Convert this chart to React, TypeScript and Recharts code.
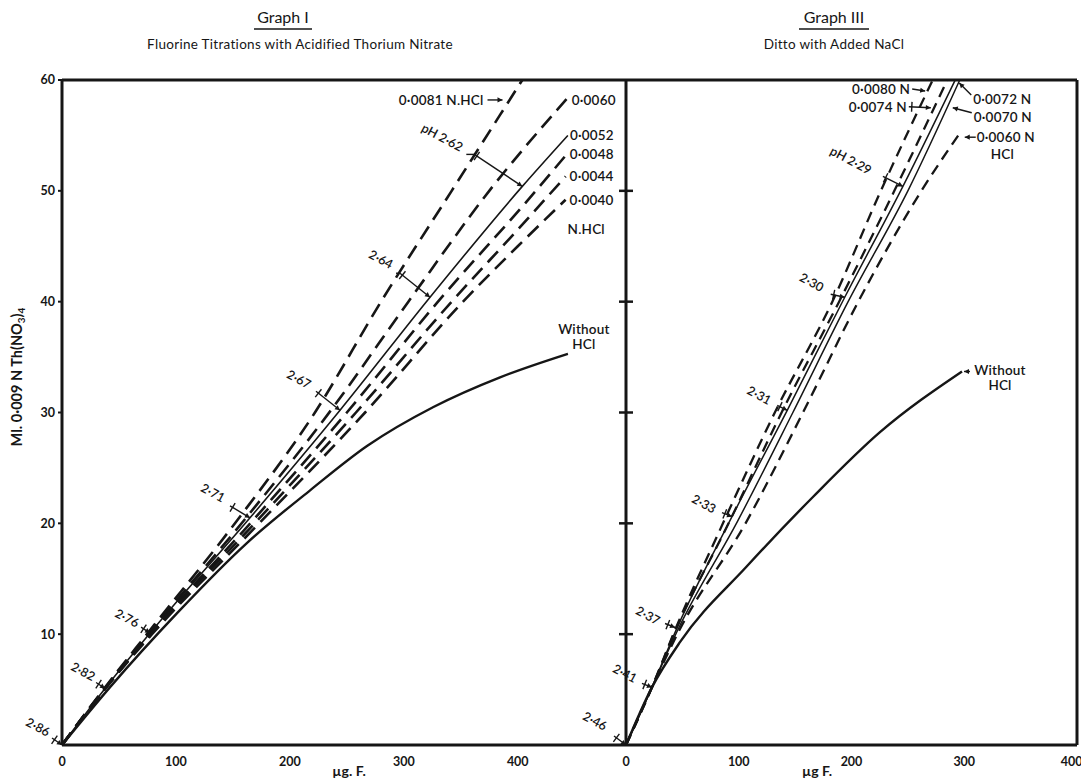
import React from 'react';
import { LineChart, Line, XAxis, YAxis, ReferenceDot, ReferenceLine } from 'recharts';

type Pt = { x: number; y: number };

// ---- Graph I: fluorine titrations with acidified thorium nitrate (ug F. vs ml) ----
const g1Hcl0081: Pt[] = [
  { x: 0, y: 0 }, { x: 37, y: 5.1 }, { x: 76, y: 10.2 }, { x: 154, y: 20.3 },
  { x: 222, y: 30 }, { x: 280, y: 40 }, { x: 342, y: 50 }, { x: 404, y: 60 },
];
const g1Hcl0060: Pt[] = [
  { x: 0, y: 0 }, { x: 37.5, y: 5.1 }, { x: 76.5, y: 10.1 }, { x: 160, y: 20.3 },
  { x: 236, y: 30.2 }, { x: 304, y: 40 }, { x: 375, y: 50 }, { x: 443, y: 58.3 },
];
const g1Hcl0052: Pt[] = [
  { x: 0, y: 0 }, { x: 37.8, y: 5.1 }, { x: 77.3, y: 10.1 }, { x: 165, y: 20.5 },
  { x: 244, y: 30.2 }, { x: 323, y: 40.4 }, { x: 404, y: 50.4 }, { x: 444, y: 55 },
];
const g1Hcl0048: Pt[] = [
  { x: 0, y: 0 }, { x: 38, y: 5.1 }, { x: 78, y: 10.1 }, { x: 167, y: 20.2 },
  { x: 250, y: 30 }, { x: 330, y: 40 }, { x: 410, y: 49.3 }, { x: 443, y: 53.3 },
];
const g1Hcl0044: Pt[] = [
  { x: 0, y: 0 }, { x: 38, y: 5.1 }, { x: 78.5, y: 10.1 }, { x: 170, y: 20.1 },
  { x: 258, y: 30 }, { x: 342, y: 40 }, { x: 400, y: 46.5 }, { x: 442, y: 51.3 },
];
const g1Hcl0040: Pt[] = [
  { x: 0, y: 0 }, { x: 38, y: 5.1 }, { x: 79, y: 10 }, { x: 173, y: 20 },
  { x: 266, y: 30 }, { x: 352, y: 40 }, { x: 400, y: 45 }, { x: 442, y: 49.2 },
];
const g1NoHcl: Pt[] = [
  { x: 0, y: 0 }, { x: 42, y: 5.2 }, { x: 101, y: 11.9 }, { x: 162, y: 18.2 },
  { x: 218, y: 23 }, { x: 268, y: 27 }, { x: 326, y: 30.5 }, { x: 385, y: 33.2 },
  { x: 444, y: 35.3 },
];
const g1PhLabels = ['2·86', '2·82', '2·76', '2·71', '2·67', '2·64', 'pH 2·62'];
const g1PhPoints: Pt[] = [
  { x: 0, y: 0 }, { x: 37.8, y: 5.1 }, { x: 77.3, y: 10.1 }, { x: 165, y: 20.5 },
  { x: 244, y: 30.2 }, { x: 323, y: 40.4 }, { x: 404, y: 50.4 },
];

// ---- Graph III: ditto with added NaCl ----
const g3Hcl0080: Pt[] = [
  { x: 0, y: 0 }, { x: 23, y: 5.2 }, { x: 44, y: 10.5 }, { x: 86, y: 20 },
  { x: 132, y: 30 }, { x: 183, y: 40 }, { x: 226, y: 50 }, { x: 272, y: 60 },
];
const g3Hcl0074: Pt[] = [
  { x: 0, y: 0 }, { x: 23, y: 5.2 }, { x: 44.5, y: 10.5 }, { x: 91, y: 20 },
  { x: 138, y: 30 }, { x: 189, y: 40 }, { x: 238, y: 50 }, { x: 285, y: 60 },
];
const g3Hcl0072: Pt[] = [
  { x: 0, y: 0 }, { x: 23, y: 5.2 }, { x: 45, y: 10.5 }, { x: 94, y: 20.6 },
  { x: 143, y: 30.2 }, { x: 194, y: 40.4 }, { x: 245.6, y: 50.4 }, { x: 292, y: 60 },
];
const g3Hcl0070: Pt[] = [
  { x: 0, y: 0 }, { x: 23, y: 5.2 }, { x: 46, y: 10.4 }, { x: 99, y: 20.2 },
  { x: 148, y: 30 }, { x: 197, y: 40 }, { x: 250, y: 50 }, { x: 296, y: 60 },
];
const g3Hcl0060: Pt[] = [
  { x: 0, y: 0 }, { x: 23, y: 5.2 }, { x: 47, y: 10.3 }, { x: 106, y: 20 },
  { x: 157, y: 30 }, { x: 206, y: 40 }, { x: 262, y: 50 }, { x: 296, y: 55.2 },
];
const g3NoHcl: Pt[] = [
  { x: 0, y: 0 }, { x: 23, y: 5.2 }, { x: 48, y: 9.3 }, { x: 107, y: 16.1 },
  { x: 166, y: 22.4 }, { x: 225, y: 28.2 }, { x: 298, y: 33.7 },
];
const g3PhLabels = ['2·46', '2·41', '2·37', '2·33', '2·31', '2·30', 'pH 2·29'];
const g3PhPoints: Pt[] = [
  { x: 0, y: 0 }, { x: 23, y: 5.2 }, { x: 43.5, y: 10.6 }, { x: 94, y: 20.6 },
  { x: 143, y: 30.2 }, { x: 194, y: 40.4 }, { x: 245.6, y: 50.4 },
];

const xTicks = [0, 100, 200, 300, 400];
const yTicksI = [10, 20, 30, 40, 50, 60];
const yTicksIII = [10, 20, 30, 40, 50];

// ---- layout ----
const W = 1081;
const H = 782;
const TOP = 80;
const BASE = 745;
const L0 = 62;
const L1 = 626;
const R1 = 1077;
const INK = '#161616';
const FONT = 'Lato, "Open Sans", sans-serif';

// label centre / arrow tail / optional elbow, in px from the marked point
const g1PhLayout = [
  { lx: -24, ly: -18, ax: -10, ay: -7 },
  { lx: -22, ly: -17, ax: -9, ay: -6 },
  { lx: -23, ly: -15, ax: -9, ay: -6 },
  { lx: -37, ly: -25, ax: -20, ay: -12 },
  { lx: -41, ly: -31, ax: -24, ay: -19 },
  { lx: -49, ly: -38, ax: -30, ay: -24, ex: -34, ey: -24 },
  { lx: -80, ly: -49, ax: -48, ay: -32, ex: -56, ey: -32 },
];
const g3PhLayout = [
  { lx: -31, ly: -24, ax: -12, ay: -9 },
  { lx: -27, ly: -14, ax: -10, ay: -4 },
  { lx: -27, ly: -12, ax: -10, ay: -4 },
  { lx: -28, ly: -13, ax: -10, ay: -4 },
  { lx: -28, ly: -15, ax: -10, ay: -5 },
  { lx: -33, ly: -15, ax: -14, ay: -3 },
  { lx: -52, ly: -26, ax: -20, ay: -10 },
];

type Note = {
  at: Pt; lines: string[]; dx: number; dy: number; anchor: 'start' | 'end' | 'middle';
  ptr?: number[]; tick?: boolean;
};

const g1Notes: Note[] = [
  { at: { x: 391, y: 58.2 }, lines: ['0·0081 N.HCl'], dx: -24, dy: 5, anchor: 'end', ptr: [-20, 0, -5, 0] },
  { at: { x: 443, y: 58.3 }, lines: ['0·0060'], dx: 5, dy: 6, anchor: 'start' },
  { at: { x: 444, y: 55 }, lines: ['0·0052'], dx: 2, dy: 5, anchor: 'start' },
  { at: { x: 443, y: 53.3 }, lines: ['0·0048'], dx: 3, dy: 5, anchor: 'start' },
  { at: { x: 442, y: 51.3 }, lines: ['0·0044'], dx: 4, dy: 5, anchor: 'start' },
  { at: { x: 442, y: 49.2 }, lines: ['0·0040'], dx: 4, dy: 5, anchor: 'start' },
  { at: { x: 442, y: 49.2 }, lines: ['N.HCl'], dx: 2, dy: 34, anchor: 'start' },
  { at: { x: 444, y: 35.3 }, lines: ['Without', 'HCl'], dx: 16, dy: -20, anchor: 'middle' },
];
const g3Notes: Note[] = [
  { at: { x: 268, y: 59.1 }, lines: ['0·0080 N'], dx: -18, dy: 4, anchor: 'end', ptr: [-16, -1, -3, 1] },
  { at: { x: 273, y: 57.5 }, lines: ['0·0074 N'], dx: -27, dy: 4, anchor: 'end', ptr: [-25, -1, -3, 0], tick: true },
  { at: { x: 292, y: 60 }, lines: ['0·0072 N'], dx: 18, dy: 24, anchor: 'start', ptr: [16, 15, 4, 3] },
  { at: { x: 284.5, y: 57.5 }, lines: ['0·0070 N'], dx: 27, dy: 14, anchor: 'start', ptr: [25, 5, 6, 0] },
  { at: { x: 296, y: 55.2 }, lines: ['0·0060 N'], dx: 17, dy: 9, anchor: 'start', ptr: [16, 4, 5, 4] },
  { at: { x: 296, y: 55.2 }, lines: ['HCl'], dx: 31, dy: 26, anchor: 'start' },
  { at: { x: 298, y: 33.7 }, lines: ['Without', 'HCl'], dx: 38, dy: 4, anchor: 'middle', ptr: [8, 0, 2, 0] },
];

const Arrow = ({ x1, y1, x2, y2, tick }: { x1: number; y1: number; x2: number; y2: number; tick?: boolean }) => {
  const dx = x2 - x1;
  const dy = y2 - y1;
  const len = Math.hypot(dx, dy) || 1;
  const ux = dx / len;
  const uy = dy / len;
  const bx = x2 - ux * 5;
  const by = y2 - uy * 5;
  const tx = x1 + ux * 3;
  const ty = y1 + uy * 3;
  return (
    <g>
      <line x1={x1} y1={y1} x2={x2} y2={y2} stroke={INK} strokeWidth={1.4} />
      <path d={`M${x2},${y2} L${bx - uy * 2.6},${by + ux * 2.6} L${bx + uy * 2.6},${by - ux * 2.6} Z`} fill={INK} />
      {tick && <line x1={tx - uy * 5} y1={ty + ux * 5} x2={tx + uy * 5} y2={ty - ux * 5} stroke={INK} strokeWidth={1.4} />}
    </g>
  );
};

const PhMark = (props: any) => {
  const { cx, cy, text, lay } = props;
  const x0 = cx + lay.ax;
  const y0 = cy + lay.ay;
  const lx = cx + lay.lx;
  const ly = cy + lay.ly;
  return (
    <g>
      {lay.ex !== undefined && (
        <line x1={cx + lay.ex} y1={cy + lay.ey} x2={x0} y2={y0} stroke={INK} strokeWidth={1.4} />
      )}
      <Arrow x1={x0} y1={y0} x2={cx} y2={cy} tick />
      <text x={lx} y={ly} transform={`rotate(28 ${lx} ${ly})`} textAnchor="middle" dominantBaseline="central"
        fontFamily={FONT} fontSize={12.5} fontWeight={600} fill={INK}>{text}</text>
    </g>
  );
};

const NoteMark = (props: any) => {
  const { cx, cy, note } = props;
  const n: Note = note;
  return (
    <g>
      {n.ptr && <Arrow x1={cx + n.ptr[0]} y1={cy + n.ptr[1]} x2={cx + n.ptr[2]} y2={cy + n.ptr[3]} tick={n.tick} />}
      {n.lines.map((t, i) => (
        <text key={t + i} x={cx + n.dx} y={cy + n.dy + i * 15} textAnchor={n.anchor}
          fontFamily={FONT} fontSize={13.5} fontWeight={600} letterSpacing={0.2} fill={INK}>{t}</text>
      ))}
    </g>
  );
};

const seriesI = [
  { id: '0081', data: g1Hcl0081, dash: true, w: 2.6 },
  { id: '0060', data: g1Hcl0060, dash: true, w: 2.6 },
  { id: '0052', data: g1Hcl0052, dash: false, w: 1.6 },
  { id: '0048', data: g1Hcl0048, dash: true, w: 2.6 },
  { id: '0044', data: g1Hcl0044, dash: true, w: 2.6 },
  { id: '0040', data: g1Hcl0040, dash: true, w: 2.6 },
  { id: 'none', data: g1NoHcl, dash: false, w: 2.4 },
];
const seriesIII = [
  { id: '0080', data: g3Hcl0080, dash: true, w: 2.3 },
  { id: '0074', data: g3Hcl0074, dash: true, w: 2.3 },
  { id: '0072', data: g3Hcl0072, dash: false, w: 1.5 },
  { id: '0070', data: g3Hcl0070, dash: false, w: 1.5 },
  { id: '0060', data: g3Hcl0060, dash: true, w: 2.3 },
  { id: 'none', data: g3NoHcl, dash: false, w: 2.4 },
];

const tickStyle = { fill: INK, fontSize: 12.5, fontWeight: 700, fontFamily: FONT };
const axisLine = { stroke: INK, strokeWidth: 3 };

const layer: React.CSSProperties = { position: 'absolute', left: 0, top: 0 };

export default function App() {
  return (
    <div style={{ position: 'absolute', left: 0, top: 0, width: W, height: H, background: '#fff', fontFamily: FONT, color: INK }}>
      <div style={layer}>
        <LineChart width={W} height={H} margin={{ top: TOP, bottom: H - BASE - 1, left: L0 - 1, right: W - L1 }}>
          <XAxis type="number" dataKey="x" domain={[0, 495]} ticks={xTicks} height={1}
            axisLine={axisLine} tickLine={false} tickMargin={6} tick={tickStyle} allowDataOverflow />
          <YAxis type="number" dataKey="y" domain={[0, 60]} ticks={yTicksI} width={1}
            axisLine={axisLine} tickLine={{ stroke: INK, strokeWidth: 2 }} tickSize={4} tickMargin={3} tick={tickStyle} />
          <ReferenceLine y={60} stroke={INK} strokeWidth={3} />
          {seriesI.map((s) => (
            <Line key={s.id} data={s.data} dataKey="y" type="monotone" stroke={INK} strokeWidth={s.w}
              strokeDasharray={s.dash ? '15 8' : undefined} dot={false} activeDot={false} isAnimationActive={false} />
          ))}
          {g1PhPoints.map((p, i) => (
            <ReferenceDot key={'ph' + i} x={p.x} y={p.y} r={0} ifOverflow="visible"
              shape={(sp: any) => <PhMark cx={sp.cx} cy={sp.cy} text={g1PhLabels[i]} lay={g1PhLayout[i]} />} />
          ))}
          {g1Notes.map((n, i) => (
            <ReferenceDot key={'n' + i} x={n.at.x} y={n.at.y} r={0} ifOverflow="visible"
              shape={(sp: any) => <NoteMark cx={sp.cx} cy={sp.cy} note={n} />} />
          ))}
        </LineChart>
      </div>
      <div style={layer}>
        <LineChart width={W} height={H} margin={{ top: TOP, bottom: H - BASE - 1, left: L1 - 1, right: W - R1 }}>
          <XAxis type="number" dataKey="x" domain={[0, 400]} ticks={xTicks} height={1}
            axisLine={axisLine} tickLine={false} tickMargin={6} tick={tickStyle} />
          <YAxis type="number" dataKey="y" domain={[0, 60]} ticks={yTicksIII} width={1}
            axisLine={axisLine} tickLine={false}
            tick={(tp: any) => <line x1={L1 - 7} x2={L1 + 7} y1={tp.y} y2={tp.y} stroke={INK} strokeWidth={2.5} />} />
          <ReferenceLine y={60} stroke={INK} strokeWidth={3} />
          <ReferenceLine x={400} stroke={INK} strokeWidth={3} />
          {seriesIII.map((s) => (
            <Line key={s.id} data={s.data} dataKey="y" type="monotone" stroke={INK} strokeWidth={s.w}
              strokeDasharray={s.dash ? '11 7' : undefined} dot={false} activeDot={false} isAnimationActive={false} />
          ))}
          {g3PhPoints.map((p, i) => (
            <ReferenceDot key={'ph' + i} x={p.x} y={p.y} r={0} ifOverflow="visible"
              shape={(sp: any) => <PhMark cx={sp.cx} cy={sp.cy} text={g3PhLabels[i]} lay={g3PhLayout[i]} />} />
          ))}
          {g3Notes.map((n, i) => (
            <ReferenceDot key={'n' + i} x={n.at.x} y={n.at.y} r={0} ifOverflow="visible"
              shape={(sp: any) => <NoteMark cx={sp.cx} cy={sp.cy} note={n} />} />
          ))}
        </LineChart>
      </div>
      <svg width={W} height={H} style={{ ...layer, pointerEvents: 'none' }}>
        <g fontFamily={FONT} fill={INK}>
          <text x={283} y={23} textAnchor="middle" fontSize={16}>Graph I</text>
          <line x1={254} x2={312} y1={29} y2={29} stroke={INK} strokeWidth={1.5} />
          <text x={300} y={49} textAnchor="middle" fontSize={13.5} letterSpacing={0.3}>Fluorine Titrations with Acidified Thorium Nitrate</text>
          <text x={834} y={23} textAnchor="middle" fontSize={16}>Graph III</text>
          <line x1={799} x2={869} y1={29} y2={29} stroke={INK} strokeWidth={1.5} />
          <text x={834} y={49} textAnchor="middle" fontSize={13.5} letterSpacing={0.3}>Ditto with Added NaCl</text>
          <text x={349} y={776} textAnchor="middle" fontSize={14} fontWeight={700}>µg. F.</text>
          <text x={817} y={776} textAnchor="middle" fontSize={14} fontWeight={700}>µg F.</text>
          <text transform="translate(22 377) rotate(-90)" textAnchor="middle" fontSize={14.5} fontWeight={700}>
            Ml. 0·009 N Th(NO<tspan fontSize={10} dy={3}>3</tspan><tspan dy={-3}>)</tspan><tspan fontSize={10} dy={3}>4</tspan>
          </text>
        </g>
      </svg>
    </div>
  );
}
